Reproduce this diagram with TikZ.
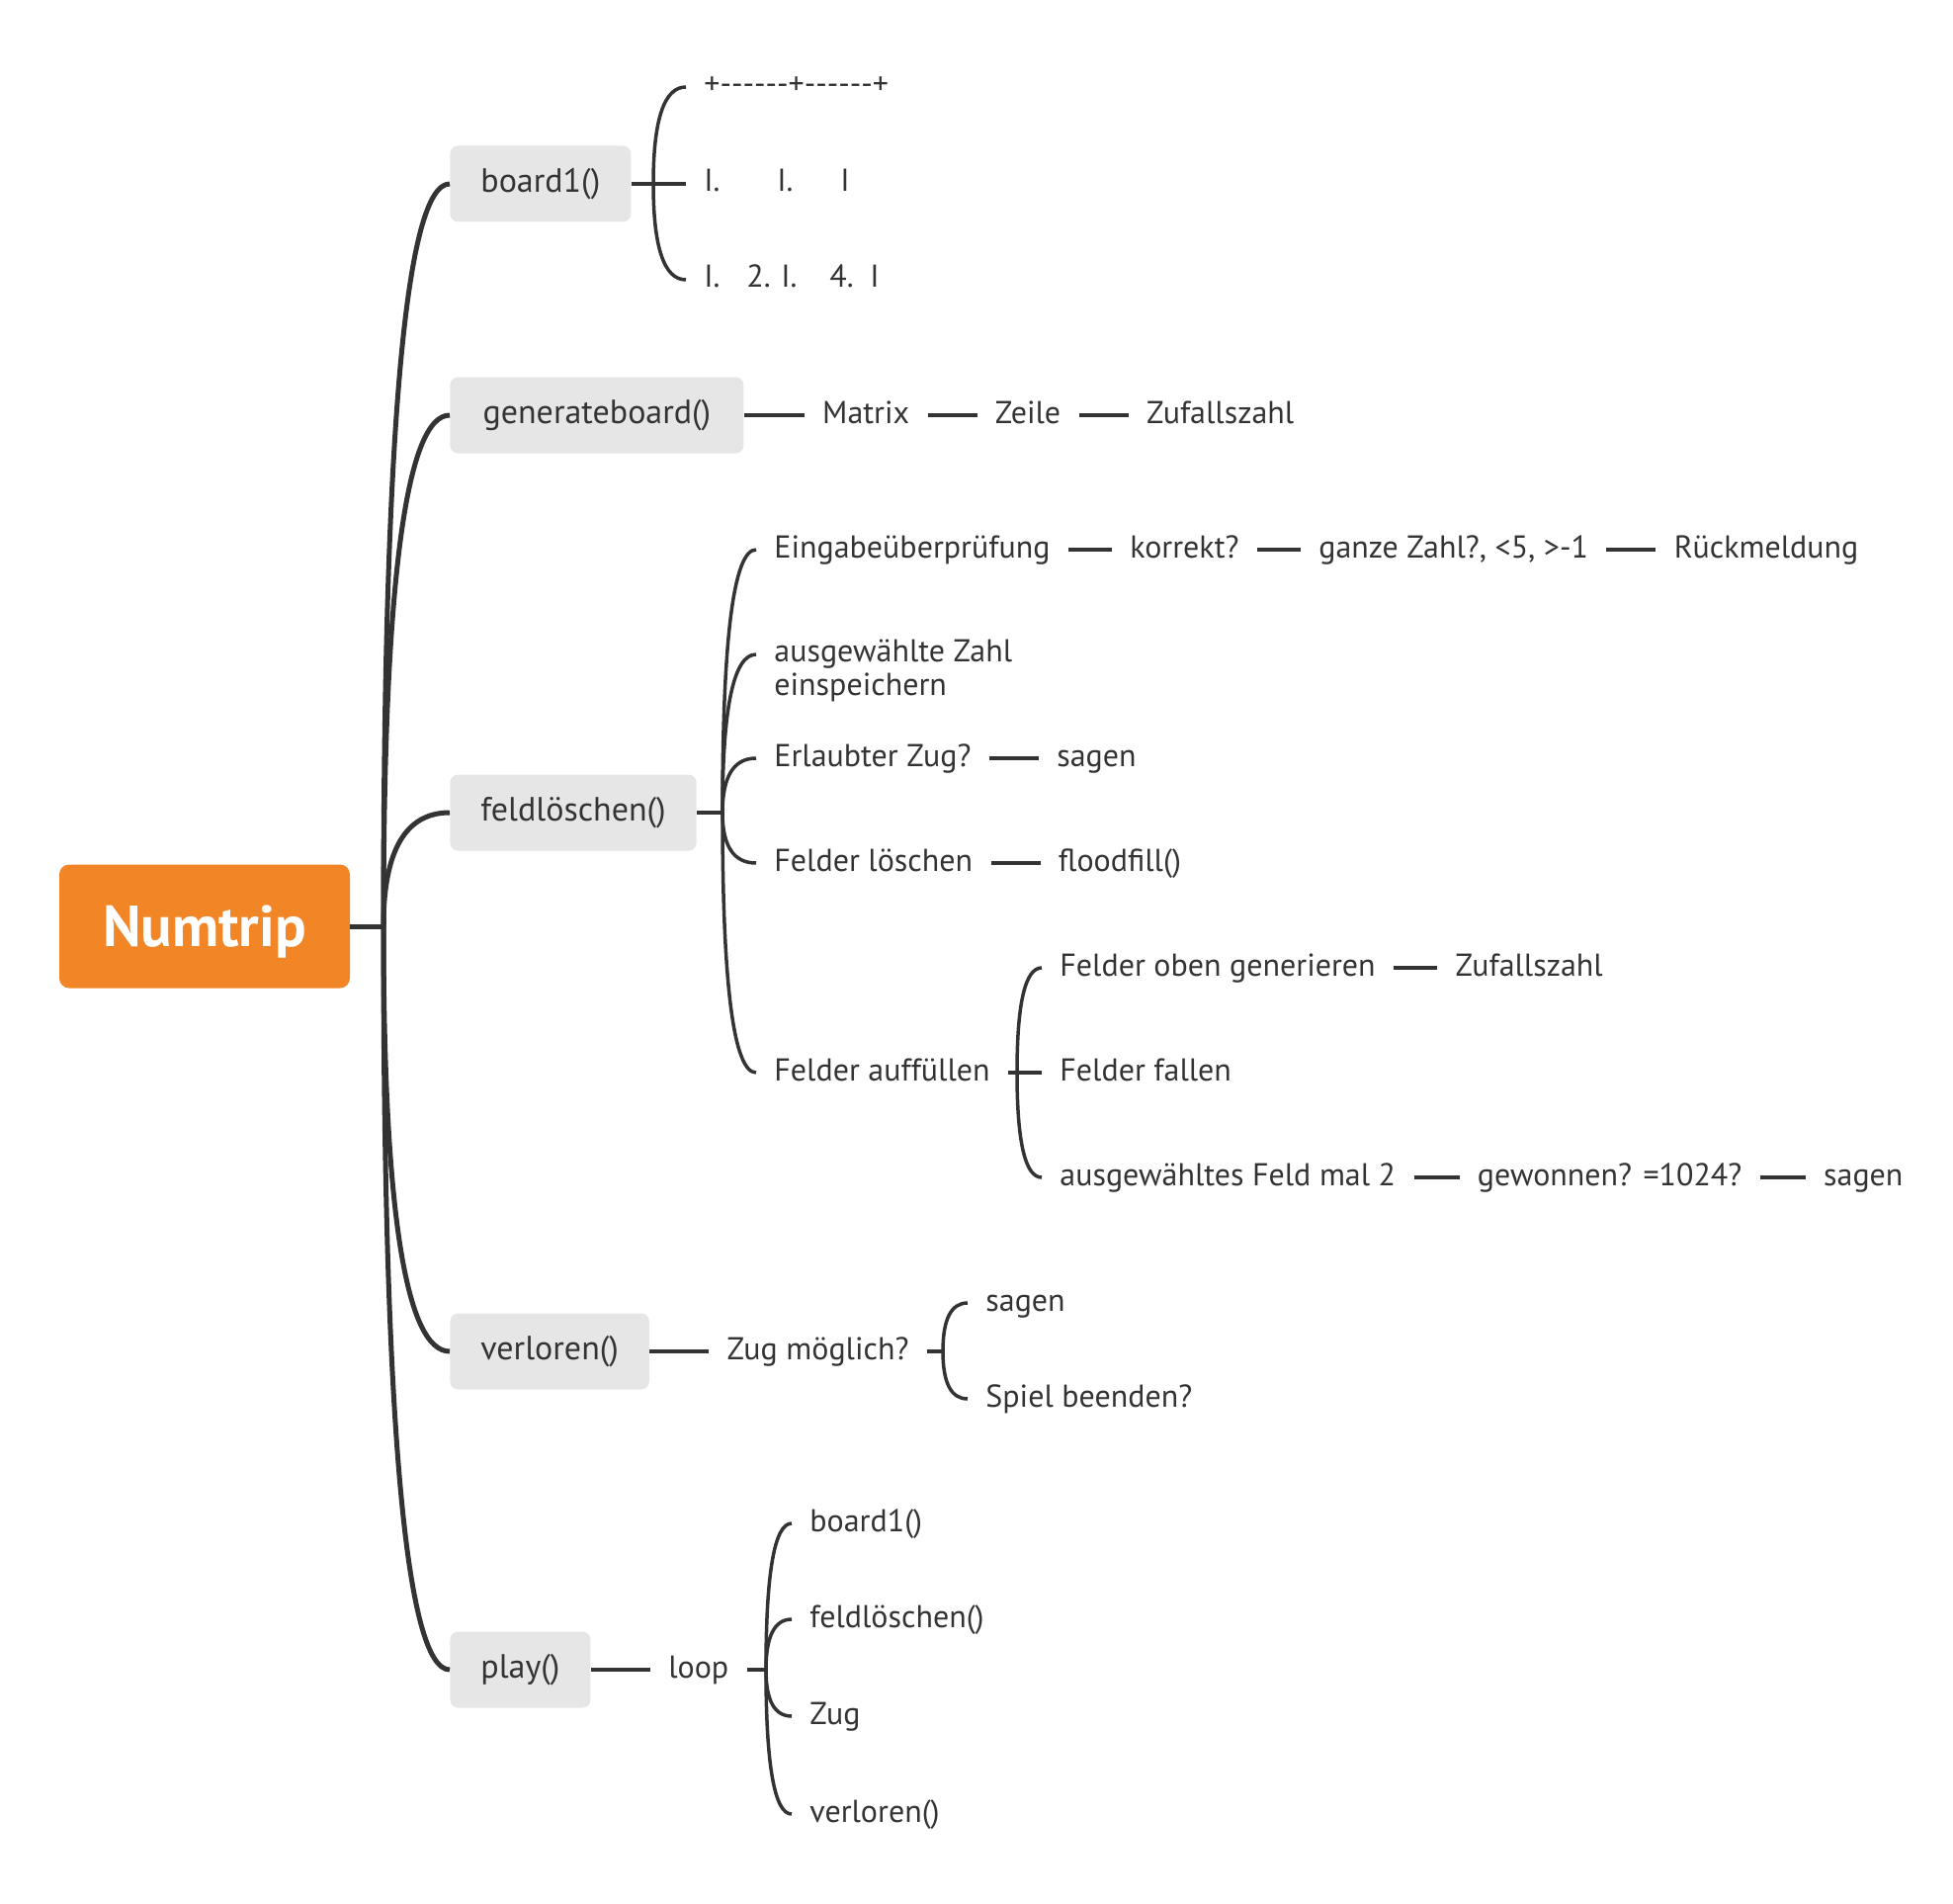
\documentclass[tikz,border=0pt]{standalone}
\usepackage{fontspec}
\setmainfont{PT Sans}
\usetikzlibrary{positioning, calc}

\definecolor{inkgray}{HTML}{333333}
\definecolor{topicgray}{HTML}{E6E6E6}
\definecolor{rootorange}{HTML}{F28526}

\begin{document}
\begin{tikzpicture}[x=0.5pt, y=-0.5pt, inner sep=0pt]
    % Define block styles
    \tikzset{
        root/.style={rectangle, fill=rootorange, rounded corners=5pt, text=white, font=\fontsize{29.3}{34}\selectfont\bfseries, minimum width=147pt, minimum height=62.5pt, text height=26pt, text depth=6pt},
        topic/.style={rectangle, fill=topicgray, rounded corners=4pt, text=inkgray, font=\fontsize{17}{20}\selectfont, minimum height=38.5pt, inner xsep=15.5pt, anchor=west},
        leaf/.style={text=inkgray, font=\fontsize{16}{17}\selectfont, inner xsep=9pt, inner ysep=2pt, text height=11.5pt, text depth=3.5pt, anchor=west},
        note/.style={text=inkgray, font=\fontsize{16}{17}\selectfont, inner xsep=9pt, inner ysep=2pt, align=left, anchor=north west},
        mainline/.style={draw=inkgray, line width=2.5pt},
        subline/.style={draw=inkgray, line width=1.75pt},
        curvy/.style={to path={.. controls ($(\tikztostart)!2/3!(\tikztostart|-\tikztotarget)$) and ($(\tikztotarget)!2/3!(\tikztostart|-\tikztotarget)$) .. (\tikztotarget)}}
    }
    \useasboundingbox (0,0) rectangle (1976,1926);

    % Place nodes
    \node [root] (numtrip) at (207,937) {Numtrip};
    \coordinate (hub) at (388,937);

    \node [topic, minimum width=89.5pt] (board) at (455,186) {board1()};
    \node [topic, minimum width=148.5pt] (gen) at (455,420) {generateboard()};
    \node [topic, minimum width=124.5pt] (feldl) at (455,822) {feldlöschen()};
    \node [topic, minimum width=99.5pt] (verl) at (455,1367) {verloren()};
    \node [topic, minimum width=70.5pt] (play) at (455,1689) {play()};

    % board1()
    \coordinate (boardjoin) at (661,186);
    \node [leaf] (rowa) at (694,88) {+{-}{-}{-}{-}{-}{-}+{-}{-}{-}{-}{-}{-}+};
    \node [leaf] (rowb) at (694,186) {\makebox[37pt][l]{I.}\makebox[32pt][l]{I.}I};
    \node [leaf] (rowc) at (694,283) {\makebox[21.5pt][l]{I.}\makebox[17.5pt][l]{2.}\makebox[24.5pt][l]{I.}\makebox[20.5pt][l]{4.}I};

    % generateboard()
    \node [leaf, right=30.5pt of gen] (matrix) {Matrix};
    \node [leaf, right=25pt of matrix] (zeile) {Zeile};
    \node [leaf, right=25pt of zeile] (zufalla) {Zufallszahl};

    % feldlöschen()
    \coordinate (feldljoin) at (731,822);
    \node [leaf] (eingabe) at (765,556) {Eingabeüberprüfung};
    \node [leaf, right=22pt of eingabe] (korrekt) {korrekt?};
    \node [leaf, right=22pt of korrekt] (ganze) {ganze Zahl?, <5, >-1};
    \node [leaf, right=25pt of ganze] (rueck) {Rückmeldung};
    \node [note] (einsp) at (765,643) {ausgewählte Zahl\\einspeichern};
    \coordinate (einspin) at (765,662);
    \node [leaf] (erlaubt) at (765,767) {Erlaubter Zug?};
    \node [leaf, right=25pt of erlaubt] (sagena) {sagen};
    \node [leaf] (loeschen) at (765,873) {Felder löschen};
    \node [leaf, right=25pt of loeschen] (flood) {floodfill()};
    \node [leaf] (auff) at (765,1085) {Felder auffüllen};

    % Felder auffüllen
    \coordinate (auffjoin) at (1029,1085);
    \node [leaf] (oben) at (1054,979) {Felder oben generieren};
    \node [leaf, right=22pt of oben] (zufallb) {Zufallszahl};
    \node [leaf] (fallen) at (1054,1085) {Felder fallen};
    \node [leaf] (mal) at (1054,1191) {ausgewähltes Feld mal 2};
    \node [leaf, right=23pt of mal] (gewonnen) {gewonnen? =1024?};
    \node [leaf, right=23pt of gewonnen] (sagenb) {sagen};

    % verloren()
    \node [leaf, right=30pt of verl] (zug) {Zug möglich?};
    \coordinate (zugjoin) at (954,1367);
    \node [leaf] (sagenc) at (979,1318) {sagen};
    \node [leaf] (spiel) at (979,1415) {Spiel beenden?};

    % play()
    \node [leaf, right=30pt of play] (loop) {loop};
    \coordinate (loopjoin) at (775,1689);
    \node [leaf] (callboard) at (801,1541) {board1()};
    \node [leaf] (callfeld) at (801,1638) {feldlöschen()};
    \node [leaf] (callzug) at (801,1736) {Zug};
    \node [leaf] (callverl) at (801,1835) {verloren()};

    % Draw main branches
    \draw [mainline] (numtrip.east) -- (hub);
    \draw [mainline] (hub) to[curvy] (board.west);
    \draw [mainline] (hub) to[curvy] (gen.west);
    \draw [mainline] (hub) to[curvy] (feldl.west);
    \draw [mainline] (hub) to[curvy] (verl.west);
    \draw [mainline] (hub) to[curvy] (play.west);

    % Draw sub branches
    \draw [subline] (board.east) -- (rowb.west);
    \draw [subline] (boardjoin) to[curvy] (rowa.west);
    \draw [subline] (boardjoin) to[curvy] (rowc.west);

    \draw [subline] (gen.east) -- (matrix.west);
    \draw [subline] (matrix.east) -- (zeile.west);
    \draw [subline] (zeile.east) -- (zufalla.west);

    \draw [subline] (feldl.east) -- (feldljoin);
    \draw [subline] (feldljoin) to[curvy] (eingabe.west);
    \draw [subline] (feldljoin) to[curvy] (einspin);
    \draw [subline] (feldljoin) to[curvy] (erlaubt.west);
    \draw [subline] (feldljoin) to[curvy] (loeschen.west);
    \draw [subline] (feldljoin) to[curvy] (auff.west);
    \draw [subline] (eingabe.east) -- (korrekt.west);
    \draw [subline] (korrekt.east) -- (ganze.west);
    \draw [subline] (ganze.east) -- (rueck.west);
    \draw [subline] (erlaubt.east) -- (sagena.west);
    \draw [subline] (loeschen.east) -- (flood.west);

    \draw [subline] (auff.east) -- (fallen.west);
    \draw [subline] (auffjoin) to[curvy] (oben.west);
    \draw [subline] (auffjoin) to[curvy] (mal.west);
    \draw [subline] (oben.east) -- (zufallb.west);
    \draw [subline] (mal.east) -- (gewonnen.west);
    \draw [subline] (gewonnen.east) -- (sagenb.west);

    \draw [subline] (verl.east) -- (zug.west);
    \draw [subline] (zug.east) -- (zugjoin);
    \draw [subline] (zugjoin) to[curvy] (sagenc.west);
    \draw [subline] (zugjoin) to[curvy] (spiel.west);

    \draw [subline] (play.east) -- (loop.west);
    \draw [subline] (loop.east) -- (loopjoin);
    \draw [subline] (loopjoin) to[curvy] (callboard.west);
    \draw [subline] (loopjoin) to[curvy] (callfeld.west);
    \draw [subline] (loopjoin) to[curvy] (callzug.west);
    \draw [subline] (loopjoin) to[curvy] (callverl.west);
\end{tikzpicture}
\end{document}
